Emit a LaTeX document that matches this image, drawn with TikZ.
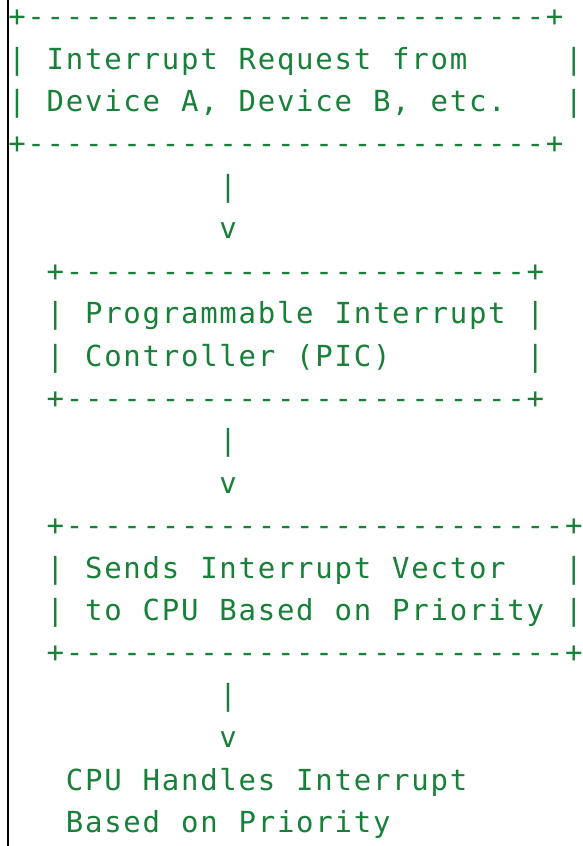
\documentclass[tikz,border=0pt]{standalone}
\usepackage{fontspec}
\newfontfamily\asciimono{DejaVu Sans Mono}
\definecolor{codegreen}{HTML}{188038}
\ExplSyntaxOn
\dim_new:N \l_asc_cw_dim
\dim_set:Nn \l_asc_cw_dim {19.2pt}
\NewDocumentCommand \asciiline { m }
  {
    \str_map_inline:nn {#1}
      {
        \str_if_eq:nnTF {##1} {_}
          { \hbox_to_wd:nn { \l_asc_cw_dim } { } }
          { \hbox_to_wd:nn { \l_asc_cw_dim } { \hfil ##1 \hfil } }
      }
  }
\ExplSyntaxOff
\tikzset{
  ascii/.style={anchor=base west, inner sep=0pt, outer sep=0pt, text=codegreen,
    font=\asciimono\fontsize{29}{29}\selectfont},
  edgeline/.style={line width=2.2pt, draw=black}
}
\begin{document}
\begin{tikzpicture}[x=1pt,y=1pt]
\useasboundingbox (0,0) rectangle (583,-846);
\draw[edgeline] (8,0) -- (8,-846);
% box 1
\node[ascii] (l0)  at (7.4,-26.6)  {\asciiline{+---------------------------+}};
\node[ascii] (l1)  at (7.4,-69.0)  {\asciiline{|_Interrupt_Request_from_____|}};
\node[ascii] (l2)  at (7.4,-111.4) {\asciiline{|_Device_A,_Device_B,_etc.___|}};
\node[ascii] (l3)  at (7.4,-153.9) {\asciiline{+---------------------------+}};
\node[ascii] (l4)  at (218.6,-196.3) {\asciiline{|}};
\node[ascii] (l5)  at (218.6,-238.7) {\asciiline{v}};
% box 2
\node[ascii] (l6)  at (45.8,-281.1) {\asciiline{+------------------------+}};
\node[ascii] (l7)  at (45.8,-323.5) {\asciiline{|_Programmable_Interrupt_|}};
\node[ascii] (l8)  at (45.8,-366.0) {\asciiline{|_Controller_(PIC)_______|}};
\node[ascii] (l9)  at (45.8,-408.4) {\asciiline{+------------------------+}};
\node[ascii] (l10) at (218.6,-450.8) {\asciiline{|}};
\node[ascii] (l11) at (218.6,-493.2) {\asciiline{v}};
% box 3
\node[ascii] (l12) at (45.8,-535.6) {\asciiline{+--------------------------+}};
\node[ascii] (l13) at (45.8,-578.1) {\asciiline{|_Sends_Interrupt_Vector___|}};
\node[ascii] (l14) at (45.8,-620.5) {\asciiline{|_to_CPU_Based_on_Priority_|}};
\node[ascii] (l15) at (45.8,-662.9) {\asciiline{+--------------------------+}};
\node[ascii] (l16) at (218.6,-705.3) {\asciiline{|}};
\node[ascii] (l17) at (218.6,-747.7) {\asciiline{v}};
% final text
\node[ascii] (l18) at (65.0,-790.2) {\asciiline{CPU_Handles_Interrupt}};
\node[ascii] (l19) at (65.0,-832.6) {\asciiline{Based_on_Priority}};
\end{tikzpicture}
\end{document}
